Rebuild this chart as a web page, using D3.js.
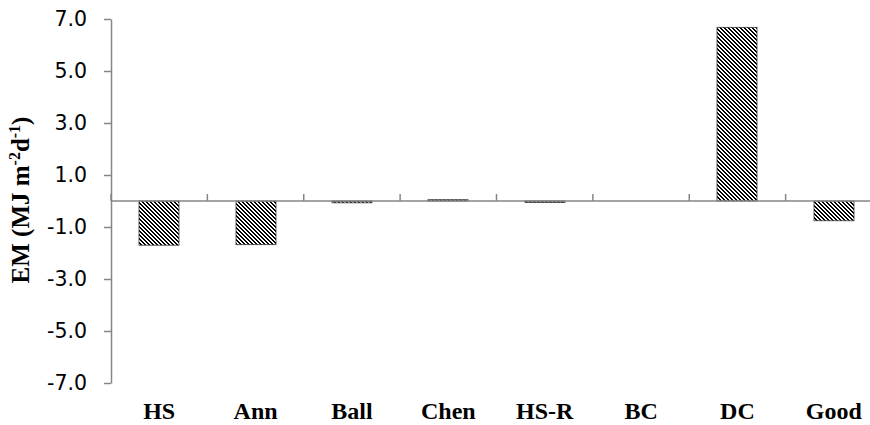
<!DOCTYPE html>
<html>
<head>
<meta charset="utf-8">
<script src="https://cdn.jsdelivr.net/npm/d3@7"></script>
<style>
	body { margin: 0; background: #fff; }
	svg { display: block; }
</style>
</head>
<body>
<div id="chart"></div>
<script>
const categories = ["HS", "Ann", "Ball", "Chen", "HS-R", "BC", "DC", "Good"];
const emValues = [-1.70, -1.68, -0.07, 0.05, -0.06, 0.0, 6.68, -0.76];
const yTicks = [-7, -5, -3, -1, 1, 3, 5, 7];

const width = 870;
const height = 425;

const colors = {
	axis: "#868686",
	hatch: "#000000",
	barStroke: "#3a3a3a",
	text: "#000000",
};

const svg = d3
	.select("#chart")
	.append("svg")
	.attr("width", width)
	.attr("height", height);

// hatch pattern: 4x4 pixel tile, stripes running top-left to bottom-right
const tile = 4;
const defs = svg.append("defs");
const pattern = defs
	.append("pattern")
	.attr("id", "hatch")
	.attr("patternUnits", "userSpaceOnUse")
	.attr("width", tile)
	.attr("height", tile);
pattern.append("rect").attr("width", tile).attr("height", tile).attr("fill", "#fff");
const cells = [];
for (let r = 0; r < tile; r++) {
	cells.push([r, r % tile]);
	cells.push([r, (r + 1) % tile]);
}
pattern
	.selectAll("rect.px")
	.data(cells)
	.enter()
	.append("rect")
	.attr("class", "px")
	.attr("x", (d) => d[1])
	.attr("y", (d) => d[0])
	.attr("width", 1)
	.attr("height", 1)
	.attr("fill", colors.hatch)
	.attr("shape-rendering", "crispEdges");

// scales
const y = d3.scaleLinear().domain([-7, 7]).range([383, 19]);
const x = d3
	.scaleBand()
	.domain(categories)
	.range([111, 882])
	.paddingInner(0.585)
	.paddingOuter(0.2925);

const step = x.step();
const bw = x.bandwidth();

// y axis
const yAxis = svg
	.append("g")
	.attr("transform", "translate(111,0)")
	.call(
		d3.axisLeft(y)
			.tickValues(yTicks)
			.tickFormat((d) => d.toFixed(1))
			.tickSize(7)
			.tickPadding(17)
			.tickSizeOuter(0)
	);
yAxis.select(".domain").attr("stroke", colors.axis).attr("stroke-width", 1.5);
yAxis.selectAll(".tick line").attr("stroke", colors.axis).attr("stroke-width", 1.5);
yAxis
	.selectAll(".tick text")
	.attr("fill", colors.text)
	.style("font-family", "DejaVu Sans")
	.style("font-size", "20.5px");

// bars
svg
	.append("g")
	.selectAll("rect")
	.data(categories)
	.enter()
	.append("rect")
	.attr("x", (d) => Math.round(x(d)))
	.attr("width", Math.round(bw))
	.attr("y", (d, i) => y(Math.max(0, emValues[i])))
	.attr("height", (d, i) => Math.abs(y(emValues[i]) - y(0)))
	.attr("fill", "url(#hatch)")
	.attr("stroke", colors.barStroke)
	.attr("stroke-width", 0.8);

// x axis line with category boundary ticks
const xAxis = svg.append("g");
xAxis
	.append("line")
	.attr("x1", 111)
	.attr("x2", width)
	.attr("y1", y(0))
	.attr("y2", y(0))
	.attr("stroke", colors.axis)
	.attr("stroke-width", 1.5);
xAxis
	.selectAll("line.tick")
	.data(categories)
	.enter()
	.append("line")
	.attr("class", "tick")
	.attr("x1", (d) => x(d) + bw / 2 - step / 2)
	.attr("x2", (d) => x(d) + bw / 2 - step / 2)
	.attr("y1", y(0))
	.attr("y2", y(0) - 7)
	.attr("stroke", colors.axis)
	.attr("stroke-width", 1.5);

// category labels
svg
	.append("g")
	.selectAll("text")
	.data(categories)
	.enter()
	.append("text")
	.text((d) => d)
	.attr("x", (d) => x(d) + bw / 2)
	.attr("y", 419)
	.attr("text-anchor", "middle")
	.attr("fill", colors.text)
	.style("font-family", "Liberation Serif")
	.style("font-weight", "bold")
	.style("font-size", "24px");

// y axis title
const title = svg
	.append("text")
	.attr("transform", "translate(29,200) rotate(-90)")
	.attr("text-anchor", "middle")
	.attr("fill", colors.text)
	.style("font-family", "Liberation Serif")
	.style("font-weight", "bold")
	.style("font-size", "25px");
title.append("tspan").text("EM (MJ m");
title.append("tspan").text("-2").attr("dy", -9).style("font-size", "16px");
title.append("tspan").text("d").attr("dy", 9);
title.append("tspan").text("-1").attr("dy", -9).style("font-size", "16px");
title.append("tspan").text(")").attr("dy", 9);
</script>
</body>
</html>
